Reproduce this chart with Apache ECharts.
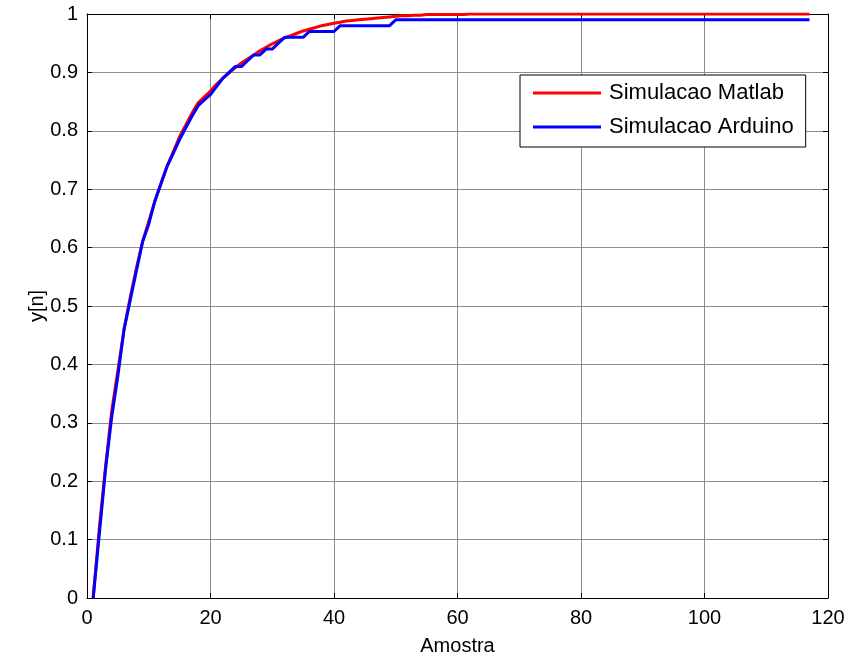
<!DOCTYPE html>
<html>
<head>
<meta charset="utf-8">
<script src="https://cdn.jsdelivr.net/npm/echarts@6/dist/echarts.min.js"></script>
<style>
  html, body { margin: 0; padding: 0; background: #fff; }
  #chart { width: 850px; height: 659px; }
</style>
</head>
<body>
<div id="chart"></div>
<script>
// sample values (sample n = 1 .. 117)
const matlabY = [
  0, 0.12, 0.225, 0.32, 0.39, 0.46, 0.515, 0.565, 0.61, 0.645,
  0.68, 0.71, 0.74, 0.765, 0.79, 0.81, 0.83, 0.848, 0.858, 0.868,
  0.88, 0.89, 0.899, 0.908, 0.916, 0.923, 0.93, 0.937, 0.943, 0.949,
  0.954, 0.959, 0.963, 0.967, 0.971, 0.974, 0.977, 0.98, 0.982, 0.984,
  0.986, 0.988, 0.989, 0.99, 0.991, 0.992, 0.993, 0.994, 0.995, 0.996,
  0.997, 0.997, 0.998, 0.998, 0.999, 0.999, 0.999, 0.999, 0.999, 0.999,
  0.999, 1, 1, 1, 1, 1, 1, 1, 1, 1,
  1, 1, 1, 1, 1, 1, 1, 1, 1, 1,
  1, 1, 1, 1, 1, 1, 1, 1, 1, 1,
  1, 1, 1, 1, 1, 1, 1, 1, 1, 1,
  1, 1, 1, 1, 1, 1, 1, 1, 1, 1,
  1, 1, 1, 1, 1, 1, 1
]
const arduinoY = [
  0, 0.11, 0.22, 0.31, 0.38, 0.46, 0.51, 0.56, 0.61, 0.64,
  0.68, 0.71, 0.74, 0.762, 0.785, 0.805, 0.825, 0.843, 0.853, 0.862,
  0.876, 0.89, 0.90, 0.91, 0.91, 0.92, 0.93, 0.93, 0.94, 0.94,
  0.95, 0.96, 0.96, 0.96, 0.96, 0.97, 0.97, 0.97, 0.97, 0.97,
  0.98, 0.98, 0.98, 0.98, 0.98, 0.98, 0.98, 0.98, 0.98, 0.99,
  0.99, 0.99, 0.99, 0.99, 0.99, 0.99, 0.99, 0.99, 0.99, 0.99,
  0.99, 0.99, 0.99, 0.99, 0.99, 0.99, 0.99, 0.99, 0.99, 0.99,
  0.99, 0.99, 0.99, 0.99, 0.99, 0.99, 0.99, 0.99, 0.99, 0.99,
  0.99, 0.99, 0.99, 0.99, 0.99, 0.99, 0.99, 0.99, 0.99, 0.99,
  0.99, 0.99, 0.99, 0.99, 0.99, 0.99, 0.99, 0.99, 0.99, 0.99,
  0.99, 0.99, 0.99, 0.99, 0.99, 0.99, 0.99, 0.99, 0.99, 0.99,
  0.99, 0.99, 0.99, 0.99, 0.99, 0.99, 0.99
]
const seriesNames = ['Simulacao Matlab', 'Simulacao Arduino']
const xTicks = [0, 20, 40, 60, 80, 100, 120]
const yTicks = [0, 0.1, 0.2, 0.3, 0.4, 0.5, 0.6, 0.7, 0.8, 0.9, 1]

const FONT = '"Liberation Sans", Arial, sans-serif'

// pair each value with its sample number (1-based, like MATLAB plot(y))
const toPairs = arr => arr.map((v, i) => [i + 1, v])

const chart = echarts.init(document.getElementById('chart'), null, { renderer: 'canvas' })

const boxAxis = {
  axisLine: { show: true, onZero: false, lineStyle: { color: '#000', width: 1 } },
  axisTick: { show: true, inside: true, length: 5, lineStyle: { color: '#000' } },
}

const option = {
  animation: false,
  backgroundColor: '#fff',
  grid: {
    left: 87, right: 22, top: 14, bottom: 61,
    containLabel: false,
    outerBoundsMode: 'none',
  },
  legend: {
    data: seriesNames,
    orient: 'vertical',
    left: 520,
    top: 75,
    padding: [7, 12, 9, 13],
    itemGap: 12,
    itemWidth: 68,
    itemHeight: 3,
    icon: 'rect',
    borderColor: '#000',
    borderWidth: 1,
    backgroundColor: '#fff',
    textStyle: { color: '#000', fontSize: 22, fontFamily: FONT, padding: [0, 0, 0, 3] },
  },
  xAxis: [
    {
      type: 'value',
      min: xTicks[0], max: xTicks[xTicks.length - 1], interval: 20,
      name: 'Amostra',
      nameLocation: 'middle',
      nameGap: 38,
      nameMoveOverlap: false,
      nameTextStyle: { color: '#000', fontSize: 20, fontFamily: FONT },
      ...boxAxis,
      axisLabel: { color: '#000', fontSize: 20, fontFamily: FONT, margin: 10 },
      splitLine: { show: true, lineStyle: { color: '#8c8c8c', width: 1 } },
    },
    {
      type: 'value', position: 'top',
      min: xTicks[0], max: xTicks[xTicks.length - 1], interval: 20,
      ...boxAxis,
      axisLabel: { show: false },
      splitLine: { show: false },
    },
  ],
  yAxis: [
    {
      type: 'value',
      min: yTicks[0], max: yTicks[yTicks.length - 1], interval: 0.1,
      name: 'y[n]',
      nameLocation: 'middle',
      nameGap: 40,
      nameMoveOverlap: false,
      nameTextStyle: { color: '#000', fontSize: 20, fontFamily: FONT },
      ...boxAxis,
      axisLabel: {
        color: '#000', fontSize: 20, fontFamily: FONT, margin: 9,
        formatter: v => String(Math.round(v * 10) / 10),
      },
      splitLine: { show: true, lineStyle: { color: '#8c8c8c', width: 1 } },
    },
    {
      type: 'value', position: 'right',
      min: yTicks[0], max: yTicks[yTicks.length - 1], interval: 0.1,
      ...boxAxis,
      axisLabel: { show: false },
      splitLine: { show: false },
    },
  ],
  series: [
    {
      name: seriesNames[0],
      type: 'line',
      data: toPairs(matlabY),
      showSymbol: false,
      symbol: 'none',
      lineStyle: { color: '#ff0000', width: 3 },
      itemStyle: { color: '#ff0000' },
      z: 3,
    },
    {
      name: seriesNames[1],
      type: 'line',
      data: toPairs(arduinoY),
      showSymbol: false,
      symbol: 'none',
      lineStyle: { color: '#0000ff', width: 3 },
      itemStyle: { color: '#0000ff' },
      z: 4,
    },
  ],
}

chart.setOption(option)
</script>
</body>
</html>
